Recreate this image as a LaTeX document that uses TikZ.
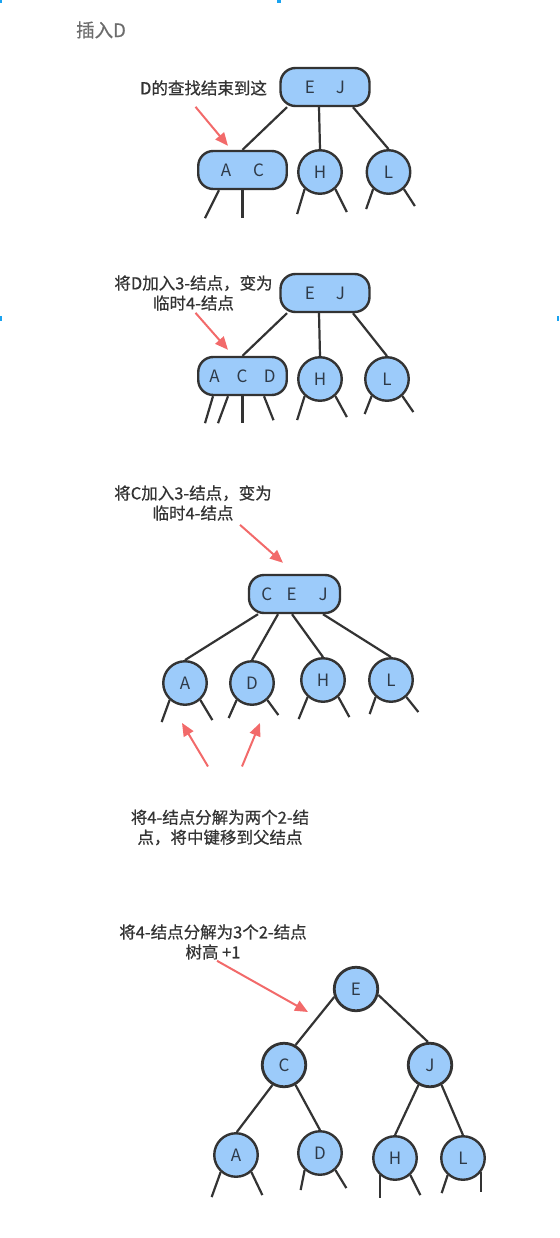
\documentclass[tikz,border=0pt]{standalone}
\usepackage{fontspec}
\setmainfont{Noto Sans CJK SC}
\newfontfamily\notefont{Noto Sans CJK SC}[FakeBold=0.6]
\usetikzlibrary{positioning, arrows.meta}
\usepackage{xcolor}
\definecolor{KeyBlue}{HTML}{9CCBFA}
\definecolor{EdgeGray}{HTML}{333333}
\definecolor{HintRed}{HTML}{F26A6A}
\definecolor{TextGray}{HTML}{333333}
\definecolor{LetterGray}{HTML}{2E3A48}
\definecolor{MarkBlue}{HTML}{1AA3F0}

\begin{document}
\begin{tikzpicture}[x=1pt, y=-1pt,
    keybox/.style={draw=EdgeGray, line width=2.4pt, fill=KeyBlue, rounded corners=15pt, minimum height=38pt, inner sep=0pt, font=\fontsize{17}{17}\selectfont, text=LetterGray},
    keycirc/.style={draw=EdgeGray, line width=2.4pt, fill=KeyBlue, circle, minimum size=43.5pt, inner sep=0pt, font=\fontsize{17}{17}\selectfont, text=LetterGray},
    link/.style={draw=EdgeGray, line width=2.2pt},
    hint/.style={-{Triangle[length=13pt,width=11pt]}, draw=HintRed, line width=2pt},
    note/.style={font=\notefont\fontsize{16.5}{20}\selectfont, text=TextGray, align=center, inner sep=0pt}]
    \useasboundingbox (0,0) rectangle (559,1238);
    % Marks
    \fill[MarkBlue] (0,0) rectangle (2,3);
    \fill[MarkBlue] (277,0) rectangle (281,3);
    \fill[MarkBlue] (0,316) rectangle (2,321);
    \fill[MarkBlue] (557,316) rectangle (559,321);

    % Step 1
    \node[note, text=gray!85!black, font=\notefont\fontsize{18.5}{18.5}\selectfont] (title) at (101,30) {插入D};
    \node[keybox, minimum width=89pt] (ej1) at (325,87) {E\hspace{21pt}J};
    \node[keybox, minimum width=88.5pt] (ac1) at (242.5,170) {A\hspace{22pt}C};
    \node[keycirc] (h1) at (320,172) {H};
    \node[keycirc] (l1) at (388.5,172) {L};
    \node[note] (find) at (203.5,88) {D的查找结束到这};
    \draw[link] ([xshift=-38pt]ej1.south) -- (ac1.north);
    \draw[link] ([xshift=-6pt]ej1.south) -- (h1.north);
    \draw[link] ([xshift=28pt]ej1.south) -- (l1.north);
    \draw[link] ([xshift=-23.5pt]ac1.south) -- ++(-14,28);
    \draw[link] (ac1.south) -- ++(0,28);
    \draw[link] (h1.228) -- ++(-7.5,25);
    \draw[link] (h1.312) -- ++(11.5,23);
    \draw[link] (l1.228) -- ++(-7,20);
    \draw[link] (l1.312) -- ++(11,17);
    \draw[hint] ([xshift=-8pt,yshift=-11pt]find.south) -- ([xshift=-14.5pt,yshift=4pt]ac1.north);

    % Step 2
    \node[keybox, minimum width=89pt] (ej2) at (325,293) {E\hspace{21pt}J};
    \node[keybox, minimum width=88.5pt] (acd) at (242.5,376) {A\hspace{17pt}C\hspace{16.5pt}D};
    \node[keycirc] (h2) at (320,379) {H};
    \node[keycirc] (l2) at (387,379) {L};
    \node[note] (addD) at (193.5,293) {将D加入3-结点，变为\\临时4-结点};
    \draw[link] ([xshift=-38pt]ej2.south) -- (acd.north);
    \draw[link] ([xshift=-6pt]ej2.south) -- (h2.north);
    \draw[link] ([xshift=28pt]ej2.south) -- (l2.north);
    \draw[link] ([xshift=-29.5pt]acd.south) -- ++(-8,27);
    \draw[link] ([xshift=-14.5pt]acd.south) -- ++(-10,27);
    \draw[link] (acd.south) -- ++(0,27);
    \draw[link] ([xshift=21.5pt]acd.south) -- ++(9.5,24);
    \draw[link] (h2.228) -- ++(-7.5,24);
    \draw[link] (h2.312) -- ++(11.5,21);
    \draw[link] (l2.228) -- ++(-7,18);
    \draw[link] (l2.312) -- ++(11,16);
    \draw[hint] ([xshift=2pt,yshift=-2pt]addD.south) -- ([xshift=-14.5pt,yshift=6pt]acd.north);

    % Step 3
    \node[keybox, minimum width=91pt] (cej) at (294.5,594) {C\hspace{14.5pt}E\hspace{22pt}J};
    \node[keycirc] (a3) at (185,683) {A};
    \node[keycirc] (d3) at (252,683) {D};
    \node[keycirc] (h3) at (323,680) {H};
    \node[keycirc] (l3) at (391,680) {L};
    \node[note] (addC) at (193,503) {将C加入3-结点，变为\\临时4-结点};
    \node[note] (split) at (220,827.5) {将4-结点分解为两个2-结\\点，将中键移到父结点};
    \draw[link] ([xshift=-36.5pt]cej.south) -- (a3.north);
    \draw[link] ([xshift=-16.5pt]cej.south) -- (d3.north);
    \draw[link] ([xshift=-2.5pt]cej.south) -- (h3.north);
    \draw[link] ([xshift=28.5pt]cej.south) -- (l3.north);
    \draw[link] (a3.228) -- ++(-8,22);
    \draw[link] (a3.312) -- ++(12,20);
    \draw[link] (d3.228) -- ++(-8,18);
    \draw[link] (d3.312) -- ++(11,15);
    \draw[link] (h3.228) -- ++(-9,22);
    \draw[link] (h3.312) -- ++(11,20);
    \draw[link] (l3.228) -- ++(-6,17);
    \draw[link] (l3.312) -- ++(12,15);
    \draw[hint] ([xshift=47pt,yshift=-4pt]addC.south) -- ([xshift=-11.5pt,yshift=11pt]cej.north);
    \draw[hint] ([xshift=-12pt,yshift=43pt]split.north) -- ([xshift=-3pt,yshift=-17pt]a3.south);
    \draw[hint] ([xshift=22pt,yshift=43pt]split.north) -- ([xshift=8pt,yshift=-17pt]d3.south);

    % Step 4
    \node[keycirc, line width=2.8pt] (e4) at (356,989) {E};
    \node[keycirc, line width=2.8pt] (c4) at (284,1065) {C};
    \node[keycirc, line width=2.8pt] (j4) at (430,1065) {J};
    \node[keycirc] (a4) at (236,1155) {A};
    \node[keycirc] (d4) at (320,1153) {D};
    \node[keycirc] (h4) at (395,1158) {H};
    \node[keycirc] (l4) at (463,1158) {L};
    \node[note] (grow) at (213,942) {将4-结点分解为3个2-结点\\树高 +1};
    \draw[link] (e4.200) -- (c4.60);
    \draw[link] (e4.-15) -- (j4.95);
    \draw[link] (c4.240) -- (a4.88);
    \draw[link] (c4.300) -- (d4.north);
    \draw[link] (j4.240) -- (h4.north);
    \draw[link] (j4.300) -- (l4.north);
    \draw[link] (a4.228) -- ++(-9,25);
    \draw[link] (a4.312) -- ++(11,23);
    \draw[link] (d4.228) -- ++(-4,20);
    \draw[link] (d4.312) -- ++(11,18);
    \draw[link] (h4.228) -- ++(0,23);
    \draw[link] (h4.312) -- ++(10,20);
    \draw[link] (l4.228) -- ++(-6,18);
    \draw[link] (l4.321) -- ++(0,20);
    \draw[hint] ([xshift=4pt,yshift=-1pt]grow.south) -- ([xshift=-48pt,yshift=-23pt]e4.center);
\end{tikzpicture}
\end{document}
